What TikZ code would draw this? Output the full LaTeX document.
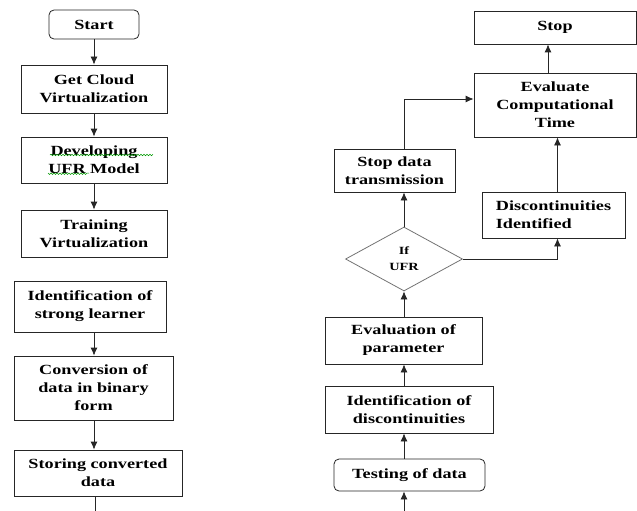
\documentclass[tikz,border=0pt]{standalone}
\usepackage{fontspec}
\setmainfont[FakeStretch=1.3]{Liberation Serif}
\usetikzlibrary{shapes.geometric,arrows.meta,decorations.pathmorphing}

\begin{document}
\begin{tikzpicture}[x=1pt,y=-1pt,
  box/.style={draw=black!85, line width=0.8pt, align=center, inner sep=0pt,
    font=\fontsize{14}{18}\selectfont\bfseries},
  rbox/.style={box, rounded corners=5pt},
  decide/.style={diamond, draw=black!55, line width=0.8pt, align=center, inner sep=0pt,
    font=\fontsize{11}{16}\selectfont\bfseries},
  arr/.style={-{Latex[length=8pt,width=7pt]}, line width=0.8pt, black!85},
  line/.style={line width=0.8pt, black!85}]
\useasboundingbox (0,0) rectangle (637,511);

% left column
\node[rbox, minimum width=90, minimum height=29] (start) at (94,24.5) {Start};
\node[box, minimum width=146, minimum height=48] (cloud) at (94,89) {Get Cloud\\Virtualization};
\node[box, minimum width=146, minimum height=46] (ufr) at (94,160) {Developing\\UFR Model};
\node[box, minimum width=146, minimum height=47] (train) at (94,233.5) {Training\\Virtualization};
\node[box, minimum width=152, minimum height=51] (learner) at (90,306.5) {Identification of\\strong learner};
\node[box, minimum width=159, minimum height=64] (conv) at (93.5,388) {Conversion of\\data in binary\\form};
\node[box, minimum width=168, minimum height=46] (store) at (98,473) {Storing converted\\data};
\coordinate (lend) at (95,511);

\draw[green!60!black, line width=0.5pt, decorate, decoration={snake,amplitude=0.8pt,segment length=3pt}]
  (50,155) -- (152,155) (48,173) -- (89,173);

\draw[arr] (start) -- (cloud);
\draw[arr] (cloud) -- (ufr);
\draw[arr] (ufr) -- (train);
\draw[arr] (learner.south -| start) -- (conv.north -| start);
\draw[arr] (conv.south -| start) -- (store.north -| start);
\draw[line] (store.south -| lend) -- (lend);

% right column
\node[box, minimum width=162, minimum height=33] (stop) at (555,27.5) {Stop};
\node[box, minimum width=162, minimum height=64] (evalct) at (555,105) {Evaluate\\Computational\\Time};
\node[box, minimum width=121, minimum height=43] (sdt) at (394.5,170.5) {Stop data\\transmission};
\node[box, minimum width=143, minimum height=46, align=left] (disc) at (553.5,215) {Discontinuities\\Identified};
\node[decide, minimum width=117, minimum height=64] (ifufr) at (404,259) {If\\UFR};
\node[box, minimum width=157, minimum height=47] (evalp) at (403.5,340.5) {Evaluation of\\parameter};
\node[box, minimum width=168, minimum height=47] (iddisc) at (409,409.5) {Identification of\\discontinuities};
\node[rbox, minimum width=151, minimum height=32] (test) at (409.5,475) {Testing of data};
\coordinate (tin) at (404,511);

\draw[arr] (tin) -- (test.south -| tin);
\draw[arr] (test.north -| tin) -- (iddisc.south -| tin);
\draw[arr] (iddisc.north -| tin) -- (evalp.south -| tin);
\draw[arr] (evalp.north -| tin) -- (ifufr.south);
\draw[arr] (ifufr.north) -- (ifufr.north |- sdt.south);
\draw[arr] (ifufr.east) -| ([xshift=4pt]disc.south);
\draw[arr] ([xshift=4pt]disc.north) -- ([xshift=4pt]disc.north |- evalct.south);
\draw[arr] (sdt.north -| ifufr) |- ([yshift=6pt]evalct.west);
\draw[arr] ([xshift=-7pt]evalct.north) -- ([xshift=-7pt]evalct.north |- stop.south);

\end{tikzpicture}
\end{document}
